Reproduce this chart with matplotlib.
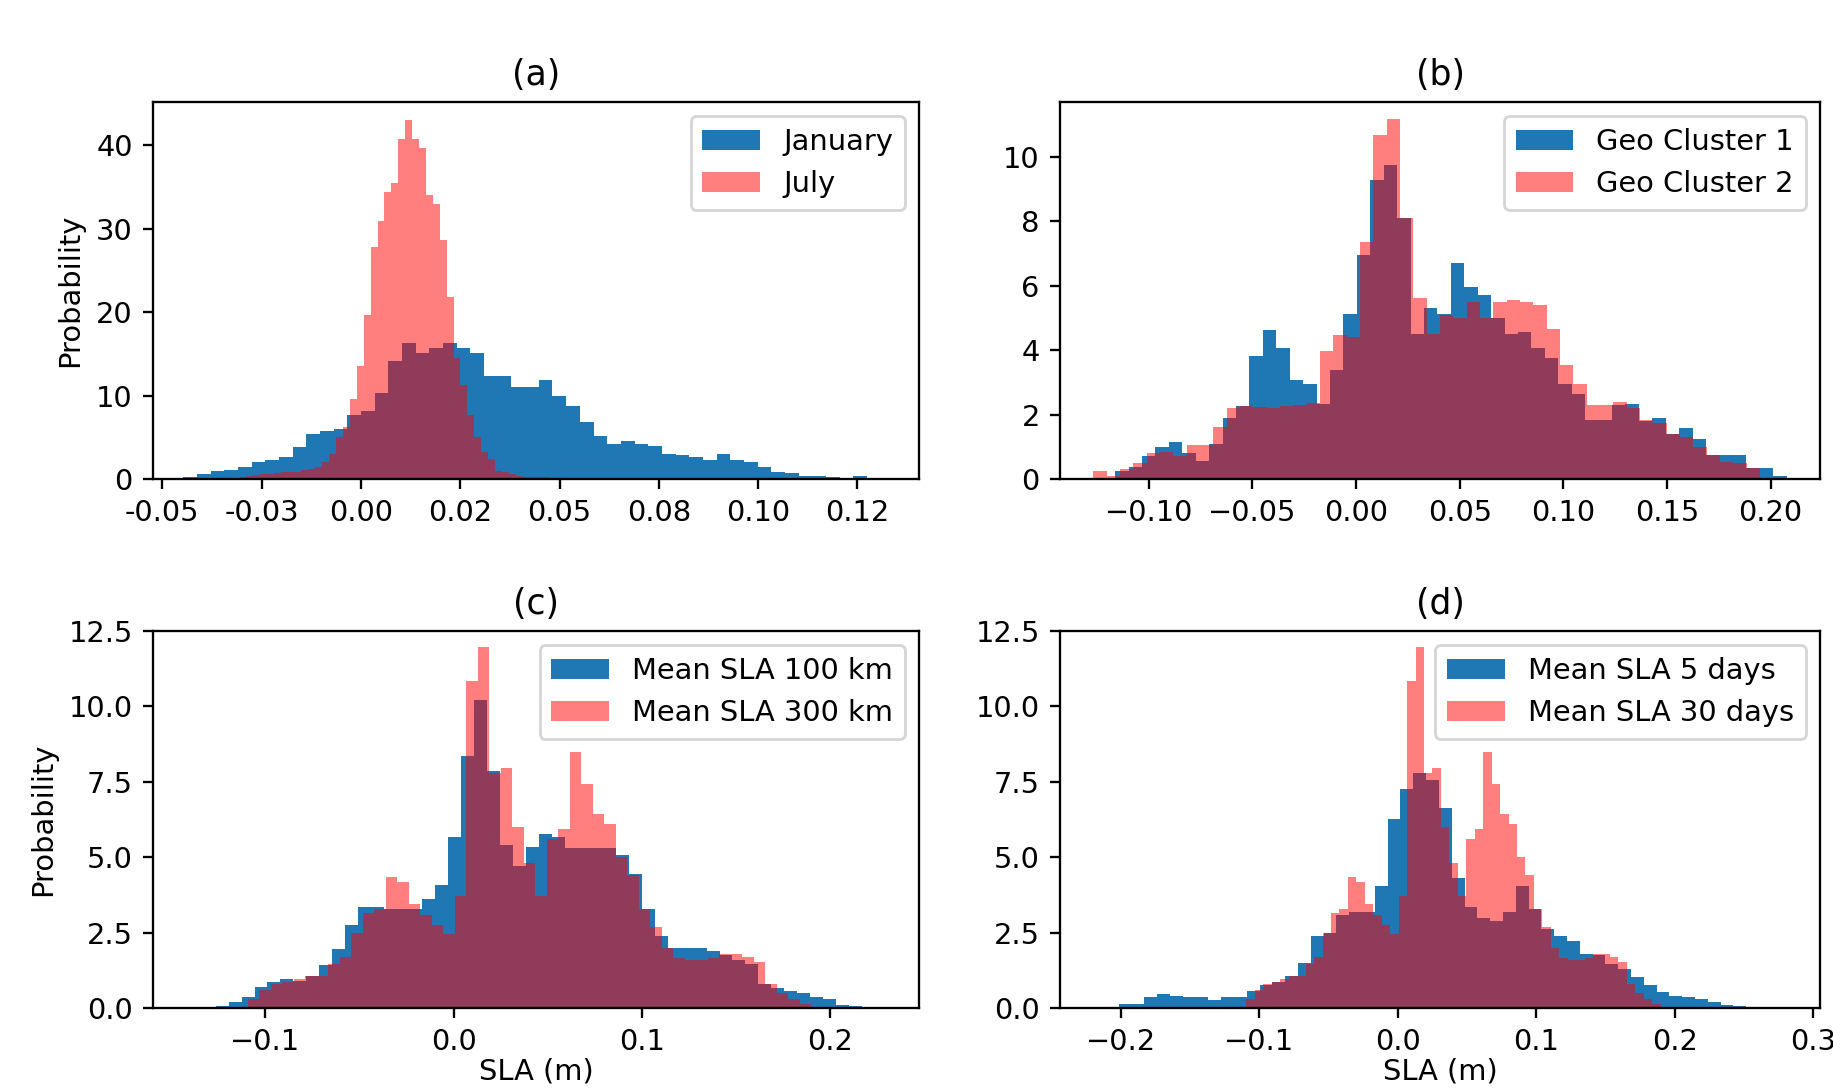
import numpy as np
import matplotlib
matplotlib.use("Agg")
import matplotlib.pyplot as plt

# ------------------------- datos -------------------------
# cada serie: limites del histograma (lo, hi) y densidad de cada bin (50 bins)

# (a) enero / julio
jan_lo, jan_hi = -0.0447, 0.1274
jan_vals = [0.3, 0.6, 1.0, 1.1, 1.4, 2.0, 2.3, 2.7, 3.9, 5.4,
            5.8, 6.0, 7.7, 8.1, 10.3, 14.1, 16.3, 15.1, 15.7, 16.3,
            15.7, 15.1, 12.3, 12.3, 11.0, 11.0, 11.9, 9.9, 8.7, 6.8,
            5.2, 4.2, 4.6, 4.2, 4.0, 3.0, 2.9, 2.6, 2.3, 3.0,
            2.3, 2.0, 1.4, 0.8, 0.7, 0.4, 0.4, 0.3, 0.0, 0.4]
jul_lo, jul_hi = -0.0306, 0.0564
jul_vals = [0.3, 0.4, 0.5, 0.6, 0.6, 0.7, 0.8, 0.8, 0.9, 1.1,
            1.2, 1.4, 2.0, 3.0, 5.0, 6.2, 9.6, 13.5, 19.7, 27.8,
            30.9, 34.4, 35.5, 40.8, 43.0, 40.8, 39.7, 34.0, 33.0, 28.7,
            21.8, 14.5, 11.3, 7.7, 5.0, 3.2, 2.4, 1.0, 0.8, 0.6,
            0.4, 0.3, 0.3, 0.2, 0.2, 0.1, 0.1, 0.1, 0.05, 0.05]

# (b) clusters geograficos
geo1_lo, geo1_hi = -0.1162, 0.2077
geo1_vals = [0.26, 0.38, 0.7, 1.0, 1.16, 0.8, 0.55, 1.1, 1.9, 2.26,
             3.81, 4.62, 4.05, 3.07, 2.96, 2.32, 3.38, 5.13, 6.94, 9.27,
             9.75, 8.11, 4.51, 5.29, 5.13, 6.70, 5.96, 5.70, 5.0, 4.5,
             4.57, 4.05, 3.74, 2.96, 2.65, 1.83, 1.83, 2.29, 2.32, 1.81,
             1.88, 1.41, 1.57, 1.24, 0.74, 0.74, 0.74, 0.33, 0.33, 0.09]
geo2_lo, geo2_hi = -0.1267, 0.1949
geo2_vals = [0.26, 0.1, 0.3, 0.5, 0.8, 0.85, 0.7, 1.07, 1.07, 1.6,
             2.2, 2.26, 2.22, 2.2, 2.26, 2.3, 2.35, 3.98, 4.46, 4.4,
             7.36, 10.66, 11.16, 8.1, 5.6, 4.5, 5.1, 5.0, 5.5, 5.0,
             5.5, 5.55, 5.5, 5.4, 4.64, 3.53, 2.96, 2.29, 2.29, 2.4,
             2.2, 1.83, 1.75, 1.41, 1.3, 1.0, 0.74, 0.54, 0.5, 0.33]

# (c) media espacial
km100_lo, km100_hi = -0.1263, 0.2167
km100_vals = [0.08, 0.19, 0.35, 0.69, 0.87, 0.96, 0.9, 1.05, 1.43, 1.96,
              2.75, 3.35, 3.35, 3.3, 3.3, 3.3, 3.62, 4.07, 5.67, 8.35,
              10.2, 7.85, 5.4, 4.7, 5.35, 5.77, 5.66, 5.3, 5.3, 5.3,
              5.3, 5.06, 4.45, 3.29, 2.4, 2.0, 2.0, 2.0, 1.9, 1.75,
              1.6, 1.45, 0.8, 0.65, 0.55, 0.5, 0.35, 0.3, 0.1, 0.08]
km300_lo, km300_hi = -0.1093, 0.1960
km300_vals = [0.3, 0.6, 0.8, 0.85, 0.95, 1.07, 1.05, 1.45, 1.7, 2.5,
              3.15, 3.3, 4.34, 4.17, 3.45, 3.1, 2.75, 2.45, 3.7, 10.86,
              11.97, 7.8, 7.95, 6.0, 4.8, 3.7, 5.6, 5.94, 8.48, 7.43,
              6.44, 6.1, 5.0, 4.4, 3.3, 2.7, 2.0, 1.65, 1.6, 1.6,
              1.65, 1.79, 1.79, 1.68, 1.52, 0.8, 0.5, 0.3, 0.15, 0.05]

# (d) media temporal (30 dias coincide con 300 km en la figura)
d5_lo, d5_hi = -0.2016, 0.2610
d5_vals = [0.15, 0.15, 0.35, 0.46, 0.4, 0.38, 0.38, 0.28, 0.38, 0.38,
           0.55, 0.75, 0.85, 1.07, 1.49, 2.38, 2.5, 3.1, 3.2, 3.2,
           4.06, 6.27, 7.25, 7.8, 7.55, 6.63, 4.31, 3.34, 2.98, 2.87,
           3.17, 4.06, 3.29, 2.62, 2.38, 2.23, 1.79, 1.75, 1.46, 1.29,
           1.02, 0.76, 0.52, 0.41, 0.35, 0.3, 0.19, 0.11, 0.08, 0.05]
d30_lo, d30_hi = km300_lo, km300_hi
d30_vals = km300_vals


def dibujar_hist(ax, lo, hi, vals, **kw):
    edges = np.linspace(lo, hi, len(vals) + 1)
    centros = (edges[:-1] + edges[1:]) / 2
    ax.hist(centros, bins=edges, weights=vals, **kw)


def panel(ax, azul, rojo, titulo):
    dibujar_hist(ax, *azul[:3], color='tab:blue', label=azul[3])
    dibujar_hist(ax, *rojo[:3], color='red', alpha=0.5, label=rojo[3])
    ax.set_title(titulo)
    ax.legend(loc='upper right')


DPI = 208
fig = plt.figure(figsize=(1833 / DPI, 1088 / DPI), dpi=DPI)
ax_a = fig.add_axes([0.0835, 0.5597, 0.4179, 0.3465])
ax_b = fig.add_axes([0.5783, 0.5597, 0.4146, 0.3465])
ax_c = fig.add_axes([0.0835, 0.0735, 0.4179, 0.3465])
ax_d = fig.add_axes([0.5783, 0.0735, 0.4146, 0.3465])

panel(ax_a, (jan_lo, jan_hi, jan_vals, 'January'),
      (jul_lo, jul_hi, jul_vals, 'July'), '(a)')
panel(ax_b, (geo1_lo, geo1_hi, geo1_vals, 'Geo Cluster 1'),
      (geo2_lo, geo2_hi, geo2_vals, 'Geo Cluster 2'), '(b)')
panel(ax_c, (km100_lo, km100_hi, km100_vals, 'Mean SLA 100 km'),
      (km300_lo, km300_hi, km300_vals, 'Mean SLA 300 km'), '(c)')
panel(ax_d, (d5_lo, d5_hi, d5_vals, 'Mean SLA 5 days'),
      (d30_lo, d30_hi, d30_vals, 'Mean SLA 30 days'), '(d)')

# ejes
ax_a.set_xlim(-0.0523, 0.1405)
ax_a.set_ylim(0, 45.2)
ax_a.set_xticks([-0.05, -0.025, 0.0, 0.025, 0.05, 0.075, 0.1, 0.125],
                ["-0.05", "-0.03", "0.00", "0.02", "0.05", "0.08", "0.10", "0.12"])
ax_a.set_yticks([0, 10, 20, 30, 40])

ax_b.set_xlim(-0.1428, 0.2238)
ax_b.set_ylim(0, 11.69)
ax_b.set_xticks([-0.10, -0.05, 0.0, 0.05, 0.10, 0.15, 0.20])
ax_b.xaxis.set_major_formatter(matplotlib.ticker.FuncFormatter(
    lambda v, p: f"{v:.2f}".replace('-', '\u2212')))
ax_b.set_yticks([0, 2, 4, 6, 8, 10])

ax_c.set_xlim(-0.1596, 0.2472)
ax_c.set_ylim(0, 12.5)
ax_c.set_xticks([-0.1, 0.0, 0.1, 0.2])
ax_c.set_yticks([0, 2.5, 5, 7.5, 10, 12.5])

ax_d.set_xlim(-0.244, 0.305)
ax_d.set_ylim(0, 12.5)
ax_d.set_xticks([-0.2, -0.1, 0.0, 0.1, 0.2, 0.3])
ax_d.set_yticks([0, 2.5, 5, 7.5, 10, 12.5])

ax_a.set_ylabel('Probability')
ax_c.set_ylabel('Probability')
ax_c.set_xlabel('SLA (m)', labelpad=0.5)
ax_d.set_xlabel('SLA (m)', labelpad=0.5)

fig.savefig('out.png', dpi=DPI)
